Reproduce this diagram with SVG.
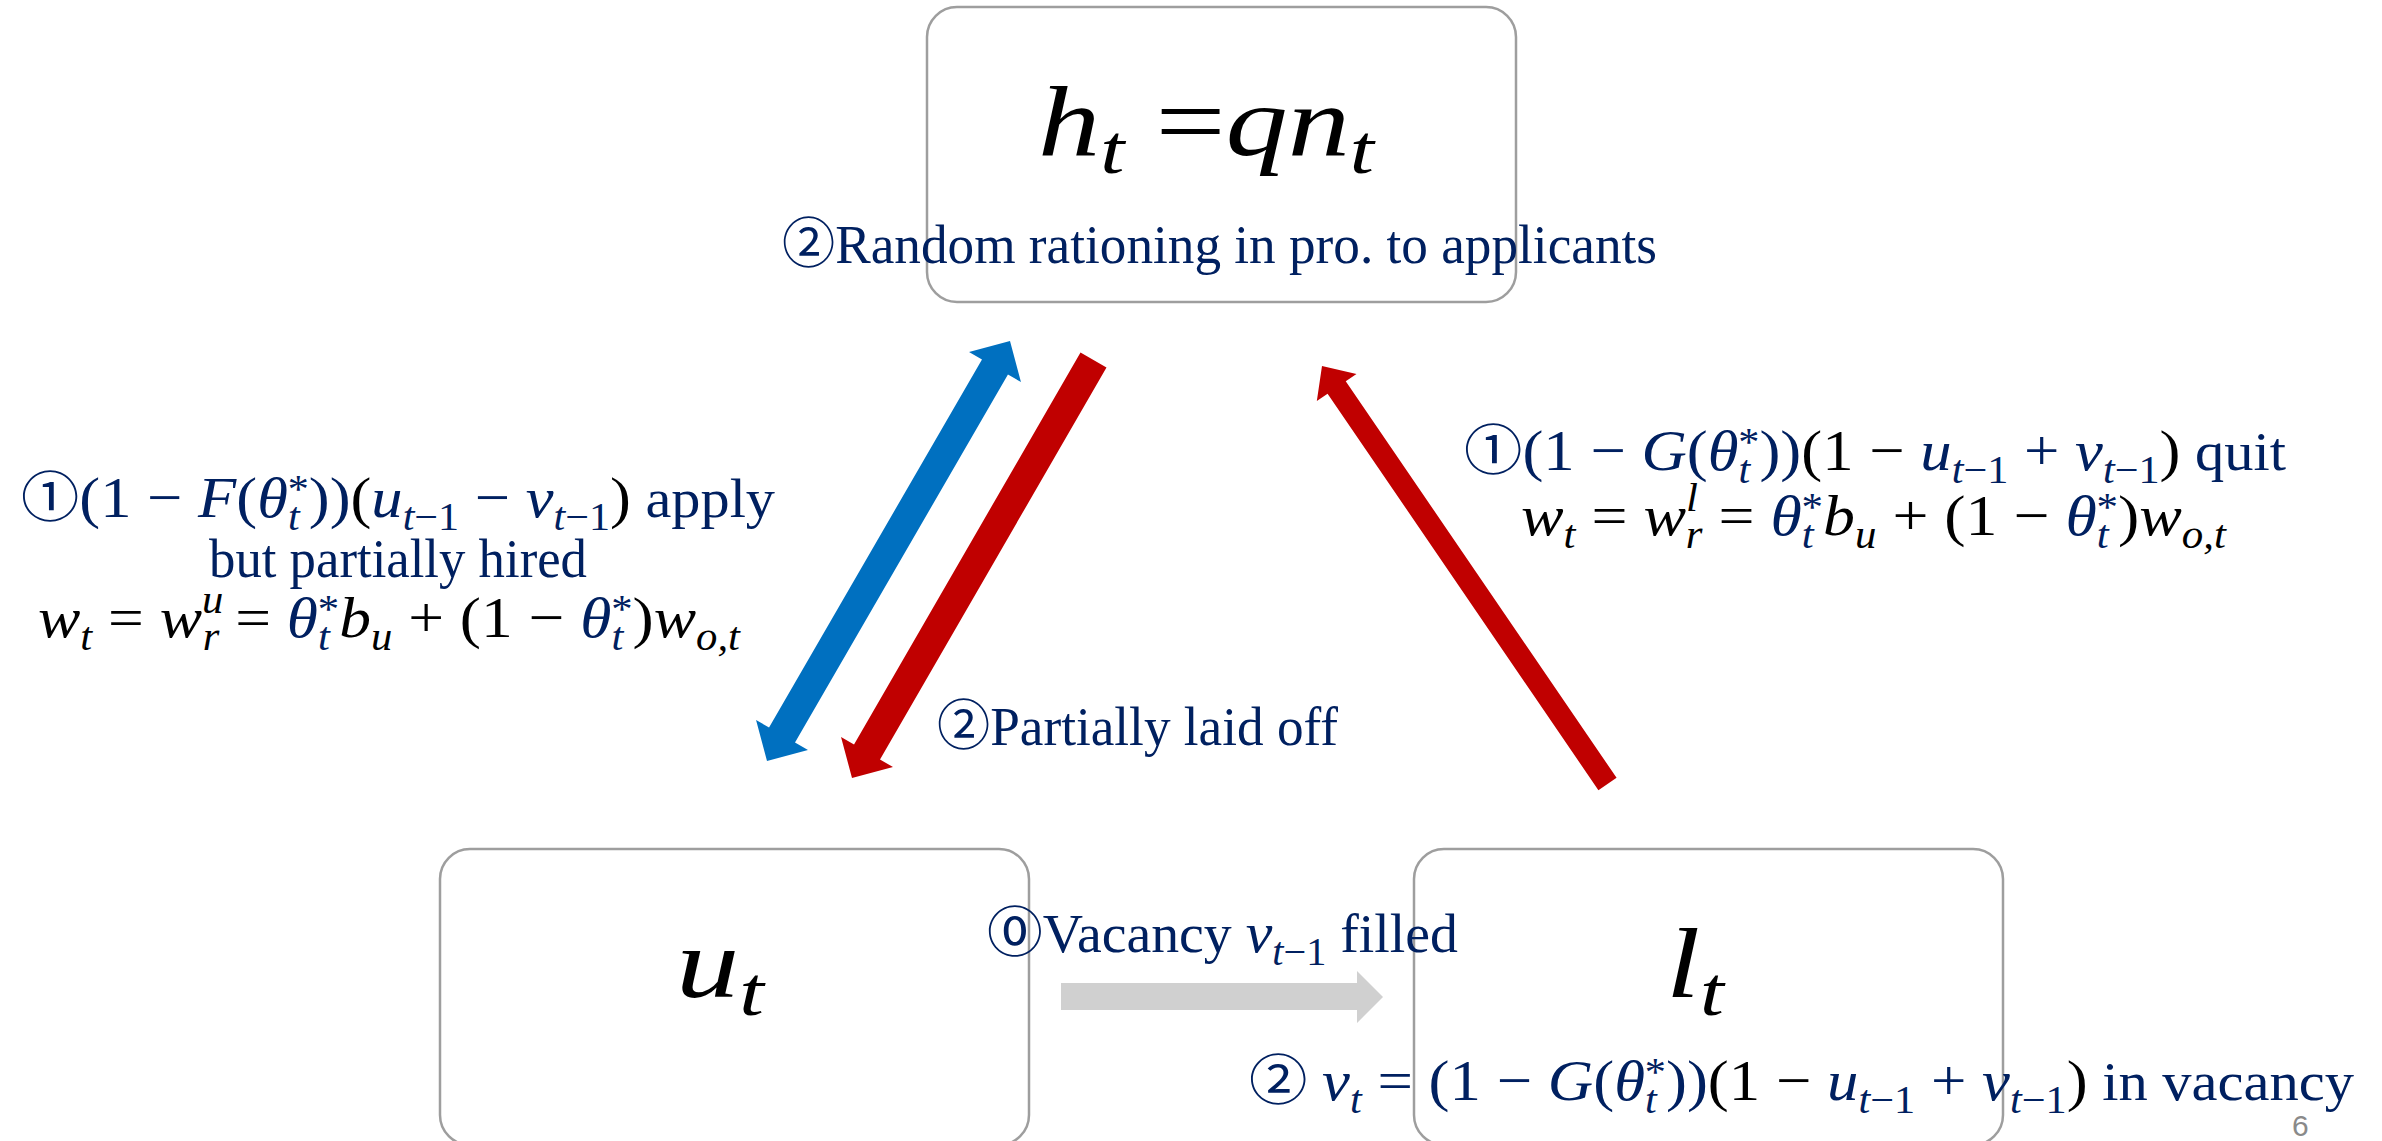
<svg xmlns="http://www.w3.org/2000/svg" width="2382" height="1141" viewBox="0 0 2382 1141">
<style>
.box{fill:#ffffff;stroke:#9e9e9e;stroke-width:2.5}
.tx{font-family:"Liberation Serif","Noto Sans CJK JP",serif;font-size:54px}
.mt{font-size:58px}
.w{font-size:54px}
.nv{fill:#002060}
.k{fill:#000000}
.i{font-style:italic}
.sb{font-size:39px}
.big{font-family:"Liberation Serif",serif;font-size:100px;font-style:italic;fill:#000}
.bs{font-size:70px}
</style>
<g id="nodes">
<g id="node-h">
<rect class="box" x="927" y="7" width="589" height="295" rx="30"/>
<text class="big" x="1038" y="155" textLength="336" lengthAdjust="spacingAndGlyphs">h<tspan class="bs" dy="18">t</tspan><tspan dy="-18" font-style="normal"> =</tspan>qn<tspan class="bs" dy="18">t</tspan></text>
</g>
<g id="node-u">
<rect class="box" x="440" y="849" width="589" height="296" rx="30"/>
<text class="big" x="676" y="997" textLength="88" lengthAdjust="spacingAndGlyphs">u<tspan class="bs" dy="18">t</tspan></text>
</g>
<g id="node-l">
<rect class="box" x="1414" y="849" width="589" height="296" rx="30"/>
<text class="big" x="1666" y="997" textLength="58" lengthAdjust="spacingAndGlyphs">l<tspan class="bs" dy="18">t</tspan></text>
</g>
</g>
<g id="connectors">
<polygon id="arrow-apply" fill="#0070C0" points="1010,341 1020.95,381.99 1007.96,374.48 795.0,742.5 807.99,750.05 767,761 756.05,720.01 769.04,727.52 981.99,359.46 969.01,351.95"/>
<polygon id="arrow-laidoff" fill="#C00000" points="1080.51,352.5 1106.49,367.5 880.0,759.52 892.99,767.03 852,778 841.03,737.01 854.02,744.52"/>
<polygon id="arrow-quit" fill="#C00000" points="1322,366 1356.48,373.93 1345.74,381.27 1616.58,777.8 1598.42,790.2 1327.58,393.67 1316.84,401.01"/>
<polygon id="arrow-vacancy" fill="#D0D0D0" points="1061,983 1357,983 1357,971 1383,997 1357,1023 1357,1010 1061,1010"/>
</g>
<g id="labels">
<text class="tx nv" x="782" y="263" textLength="875" lengthAdjust="spacingAndGlyphs">②Random rationing in pro. to applicants</text>
<text class="tx mt nv" x="21" y="517" textLength="754" lengthAdjust="spacingAndGlyphs"><tspan class="w">①</tspan>(1 − <tspan class="i">F</tspan>(<tspan class="i">θ</tspan><tspan class="i sb" dy="13">t</tspan><tspan class="sb" dx="-11" dy="-28">*</tspan><tspan dy="15">))</tspan><tspan class="k">(</tspan><tspan class="i">u</tspan><tspan class="sb" dy="13"><tspan class="i">t</tspan>−1</tspan><tspan dy="-13"> − </tspan><tspan class="i">v</tspan><tspan class="sb" dy="13"><tspan class="i">t</tspan>−1</tspan><tspan class="k" dy="-13">)</tspan><tspan class="w"> apply</tspan></text>
<text class="tx nv" x="398" y="577" text-anchor="middle" textLength="378" lengthAdjust="spacingAndGlyphs">but partially hired</text>
<text class="tx mt k" x="38" y="637" textLength="702" lengthAdjust="spacingAndGlyphs"><tspan class="i">w</tspan><tspan class="i sb" dy="13">t</tspan><tspan dy="-13"> = </tspan><tspan class="i">w</tspan><tspan class="i sb" dy="-24">u</tspan><tspan class="i sb" dx="-19" dy="37">r</tspan><tspan dy="-13"> = </tspan><tspan class="i nv">θ</tspan><tspan class="i sb nv" dy="13">t</tspan><tspan class="sb nv" dx="-11" dy="-28">*</tspan><tspan class="i" dy="15">b</tspan><tspan class="i sb" dy="13">u</tspan><tspan dy="-13"> + (1 − </tspan><tspan class="i nv">θ</tspan><tspan class="i sb nv" dy="13">t</tspan><tspan class="sb nv" dx="-11" dy="-28">*</tspan><tspan dy="15">)</tspan><tspan class="i">w</tspan><tspan class="i sb" dy="13">o,t</tspan></text>
<text class="tx mt nv" x="1464" y="470" textLength="822" lengthAdjust="spacingAndGlyphs"><tspan class="w">①</tspan>(1 − <tspan class="i">G</tspan>(<tspan class="i">θ</tspan><tspan class="i sb" dy="13">t</tspan><tspan class="sb" dx="-11" dy="-28">*</tspan><tspan dy="15">))</tspan><tspan class="k">(1 − </tspan><tspan class="i">u</tspan><tspan class="sb" dy="13"><tspan class="i">t</tspan>−1</tspan><tspan dy="-13"> + </tspan><tspan class="i">v</tspan><tspan class="sb" dy="13"><tspan class="i">t</tspan>−1</tspan><tspan class="k" dy="-13">)</tspan><tspan class="w"> quit</tspan></text>
<text class="tx mt k" x="1521" y="535" textLength="705" lengthAdjust="spacingAndGlyphs"><tspan class="i">w</tspan><tspan class="i sb" dy="13">t</tspan><tspan dy="-13"> = </tspan><tspan class="i">w</tspan><tspan class="i sb" dy="-24">l</tspan><tspan class="i sb" dx="-11" dy="37">r</tspan><tspan dy="-13"> = </tspan><tspan class="i nv">θ</tspan><tspan class="i sb nv" dy="13">t</tspan><tspan class="sb nv" dx="-11" dy="-28">*</tspan><tspan class="i" dy="15">b</tspan><tspan class="i sb" dy="13">u</tspan><tspan dy="-13"> + (1 − </tspan><tspan class="i nv">θ</tspan><tspan class="i sb nv" dy="13">t</tspan><tspan class="sb nv" dx="-11" dy="-28">*</tspan><tspan dy="15">)</tspan><tspan class="i">w</tspan><tspan class="i sb" dy="13">o,t</tspan></text>
<text class="tx nv" x="937" y="745" textLength="401" lengthAdjust="spacingAndGlyphs">②Partially laid off</text>
<text class="tx nv" x="987" y="952" textLength="471" lengthAdjust="spacingAndGlyphs">⓪Vacancy <tspan class="i mt">v</tspan><tspan class="sb" dy="13"><tspan class="i">t</tspan>−1</tspan><tspan dy="-13"> filled</tspan></text>
<text class="tx mt nv" x="1249" y="1100" textLength="1105" lengthAdjust="spacingAndGlyphs"><tspan class="w">② </tspan><tspan class="i">v</tspan><tspan class="i sb" dy="13">t</tspan><tspan dy="-13"> = (1 − </tspan><tspan class="i">G</tspan>(<tspan class="i">θ</tspan><tspan class="i sb" dy="13">t</tspan><tspan class="sb" dx="-11" dy="-28">*</tspan><tspan dy="15">))</tspan><tspan class="k">(1 − </tspan><tspan class="i">u</tspan><tspan class="sb" dy="13"><tspan class="i">t</tspan>−1</tspan><tspan dy="-13"> + </tspan><tspan class="i">v</tspan><tspan class="sb" dy="13"><tspan class="i">t</tspan>−1</tspan><tspan class="k" dy="-13">)</tspan><tspan class="w"> in vacancy</tspan></text>
<text x="2292" y="1136" font-family="Liberation Sans, sans-serif" font-size="30" fill="#8a8a8a">6</text>
</g>
</svg>
